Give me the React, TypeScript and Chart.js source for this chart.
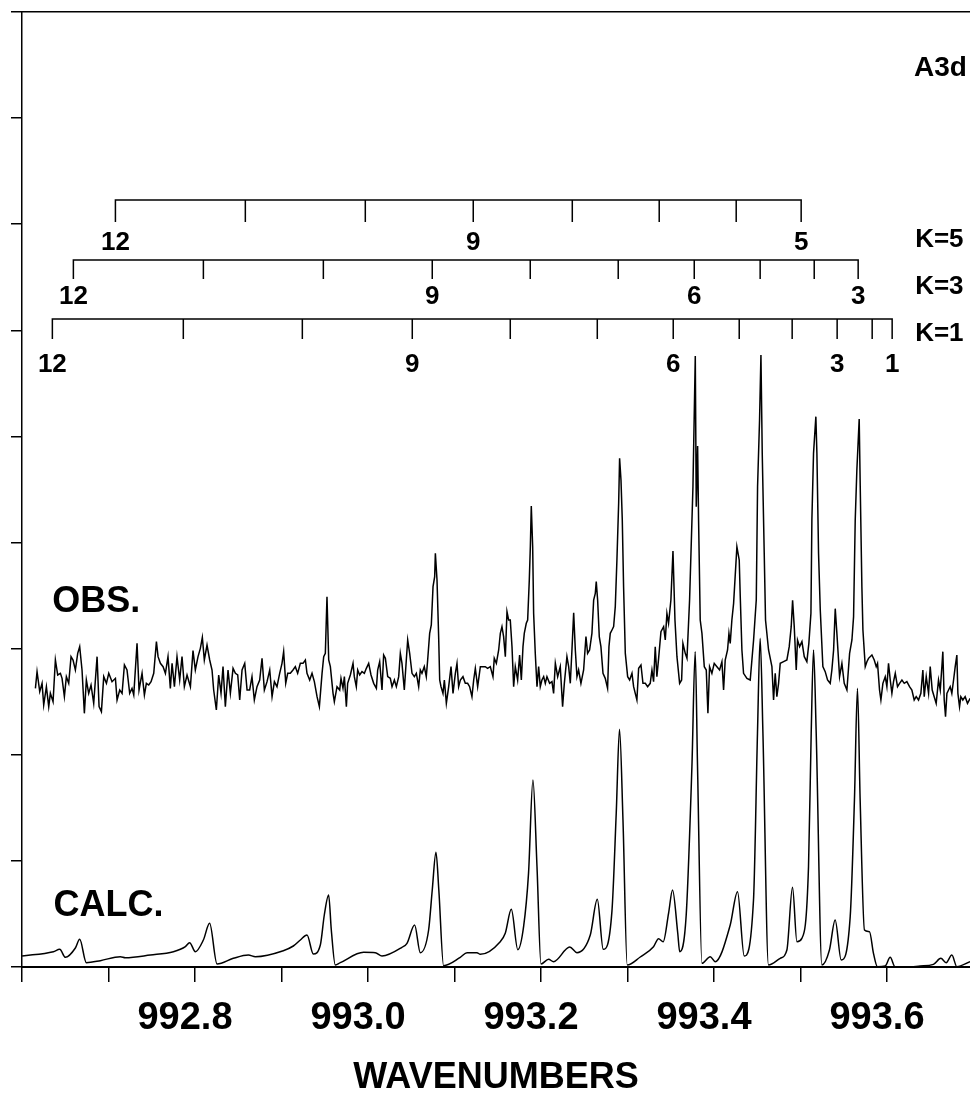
import React, { useEffect, useRef } from "react";
import { Chart, registerables } from "chart.js";

Chart.register(...registerables);

// ---- axes ----
const X_MIN = 992.6;
const X_MAX = 993.696;
const Y_MAX = 2865;
const xTickValues = [992.6, 992.7, 992.8, 992.9, 993.0, 993.1, 993.2, 993.3, 993.4, 993.5, 993.6];
const xTickLabels = ["", "", "992.8", "", "993.0", "", "993.2", "", "993.4", "", "993.6"];
const yTickValues = [0, 318.33, 636.67, 955, 1273.33, 1591.67, 1910, 2228.33, 2546.67, 2865];
const xAxisTitle = "WAVENUMBERS";

// ---- observed spectrum [wavenumber, intensity] ----
const obsSpectrum: [number, number][] = [
  [992.6155,836],[992.6174,886],[992.6205,826],[992.6232,851],[992.6251,786],[992.6282,841],[992.6309,781],[992.6328,821],[992.6359,796],[992.6386,921],[992.6413,876],[992.6444,881],[992.6463,866],[992.649,811],[992.6513,871],[992.654,851],[992.6567,931],[992.659,921],[992.6617,891],[992.6644,941],[992.6667,961],[992.6694,891],[992.6721,761],[992.6744,861],[992.6771,821],[992.6798,846],[992.6829,791],[992.6868,931],[992.6891,781],[992.6918,766],[992.6945,871],[992.6976,851],[992.7003,881],[992.7041,856],[992.708,866],[992.7099,801],[992.713,831],[992.7157,821],[992.7184,906],[992.7214,891],[992.7245,821],[992.7272,836],[992.7292,816],[992.733,971],[992.7353,831],[992.7388,881],[992.7415,816],[992.7438,851],[992.7465,846],[992.7492,856],[992.7523,881],[992.7554,976],[992.7573,931],[992.76,911],[992.7631,901],[992.7658,881],[992.7688,931],[992.7715,836],[992.7735,911],[992.7762,841],[992.7792,931],[992.7823,861],[992.785,931],[992.7877,841],[992.7908,876],[992.7947,841],[992.7977,949],[992.8004,891],[992.8035,931],[992.8062,956],[992.8085,989],[992.8108,921],[992.8139,966],[992.817,921],[992.8197,891],[992.8216,831],[992.8247,771],[992.8274,876],[992.8301,821],[992.8324,901],[992.8351,781],[992.8382,891],[992.8409,821],[992.844,896],[992.8467,881],[992.8494,876],[992.8517,801],[992.8544,891],[992.8575,911],[992.8602,831],[992.8632,831],[992.8659,871],[992.8686,801],[992.8717,841],[992.8748,861],[992.8775,926],[992.8802,831],[992.8833,856],[992.8864,891],[992.8891,811],[992.8918,856],[992.8948,841],[992.8979,881],[992.9006,911],[992.9025,946],[992.9049,851],[992.9072,881],[992.9102,881],[992.9133,891],[992.916,901],[992.9187,881],[992.9218,911],[992.9249,911],[992.9276,921],[992.9295,881],[992.9326,861],[992.9353,881],[992.938,856],[992.9411,811],[992.9438,781],[992.9469,881],[992.9488,931],[992.9507,941],[992.9526,1111],[992.9546,921],
  [992.9565,901],[992.9596,821],[992.9611,796],[992.9642,841],[992.9673,831],[992.9688,866],[992.9711,836],[992.9727,871],[992.975,781],[992.9765,851],[992.9796,876],[992.9827,911],[992.9842,871],[992.9865,841],[992.9881,891],[992.9904,876],[992.9931,886],[992.9958,881],[992.9981,896],[993.0008,911],[993.0035,876],[993.0066,851],[993.0097,836],[993.0112,891],[993.0135,916],[993.0162,831],[993.0181,936],[993.0201,926],[993.0228,871],[993.0258,866],[993.0278,841],[993.0305,861],[993.0328,841],[993.0355,871],[993.0374,941],[993.0393,911],[993.042,831],[993.0443,921],[993.0459,981],[993.0482,941],[993.0509,881],[993.0536,871],[993.0559,881],[993.0586,841],[993.0605,891],[993.0624,881],[993.0651,901],[993.0674,871],[993.069,921],[993.0713,1001],[993.0732,1026],[993.0752,1141],[993.0771,1171],[993.0779,1241],[993.0798,1161],[993.0817,991],[993.0829,861],[993.0844,841],[993.0867,821],[993.0883,861],[993.0906,791],[993.0933,841],[993.096,901],[993.0983,821],[993.101,881],[993.1029,911],[993.1048,841],[993.1068,861],[993.1098,871],[993.1125,851],[993.1152,851],[993.1175,841],[993.1202,811],[993.1222,861],[993.1241,896],[993.1268,841],[993.1299,901],[993.1329,901],[993.1356,901],[993.1383,896],[993.1414,901],[993.1445,871],[993.146,926],[993.1484,911],[993.1511,951],[993.153,1001],[993.1549,1021],[993.1568,991],[993.1588,931],[993.1607,1066],[993.1626,1041],[993.1645,1041],[993.1665,961],[993.1684,841],[993.1703,901],[993.173,861],[993.1753,936],[993.1773,861],[993.1792,961],[993.1807,1001],[993.183,1031],[993.1846,1041],[993.1865,1161],[993.1877,1261],[993.1888,1383],[993.1904,1261],[993.1915,1061],[993.1934,941],[993.1954,841],[993.1973,901],[993.1992,841],[993.2011,861],[993.2031,871],[993.205,851],[993.2069,871],[993.21,851],[993.2127,856],[993.2146,821],[993.2166,911],[993.2193,871],[993.2223,901],[993.225,781],[993.227,851],[993.23,931],[993.232,901],[993.2339,851],[993.2358,951],[993.2378,1063],[993.2397,951],[993.2416,871],[993.2435,891],[993.2462,851],[993.2493,891],[993.252,991],[993.2539,941],[993.2562,951],[993.2589,1001],[993.2609,1101],[993.2628,1121],[993.2639,1156],[993.2655,1101],[993.2674,991],[993.2693,961],[993.2717,881],[993.2743,866],[993.277,836],[993.2786,961],[993.2801,1001],[993.2821,1011],[993.284,1021],[993.2859,1081],[993.2878,1221],[993.2898,1391],[993.2909,1526],[993.2925,1461],[993.294,1341],[993.2955,1141],[993.2975,941],[993.3002,871],[993.3025,861],[993.3052,881],[993.3071,841],[993.309,821],[993.3109,801],[993.3129,896],[993.3156,906],[993.3179,851],[993.3206,851],[993.3233,841],
  [993.3263,851],[993.3283,891],[993.3302,856],[993.3321,961],[993.334,871],[993.336,926],[993.3387,1006],[993.3418,1021],[993.3437,981],[993.3456,1061],[993.3475,1031],[993.3502,1101],[993.3526,1248],[993.3549,1041],[993.3572,931],[993.3603,851],[993.3626,861],[993.3641,971],[993.3668,941],[993.3688,926],[993.3718,1101],[993.3757,1441],[993.3784,1833],[993.3795,1381],[993.3811,1563],[993.3822,1341],[993.3841,1041],[993.3861,1001],[993.3888,901],[993.3911,891],[993.393,761],[993.3949,901],[993.3976,881],[993.4003,911],[993.4034,901],[993.4065,891],[993.4092,916],[993.4111,831],[993.413,921],[993.4157,951],[993.4173,1001],[993.4188,971],[993.4207,1041],[993.4227,1091],[993.4265,1261],[993.4292,1221],[993.4304,1111],[993.4323,951],[993.4342,881],[993.4381,866],[993.4419,861],[993.4458,981],[993.4489,1101],[993.4504,1441],[993.4527,1641],[993.4543,1836],[993.4558,1541],[993.4581,1241],[993.4596,1041],[993.4631,951],[993.467,901],[993.4689,801],[993.4708,881],[993.4727,811],[993.4747,851],[993.4766,911],[993.4805,916],[993.4843,921],[993.487,961],[993.4893,1021],[993.4909,1100],[993.4928,1021],[993.4951,891],[993.4966,981],[993.499,961],[993.5017,976],[993.5044,931],[993.5074,916],[993.5097,971],[993.5121,1061],[993.5132,1341],[993.5151,1541],[993.5178,1651],[993.519,1541],[993.5209,1241],[993.5229,1071],[993.5259,901],[993.5286,886],[993.5313,861],[993.5344,851],[993.5363,891],[993.5383,951],[993.5402,1075],[993.5421,1001],[993.5452,871],[993.5479,911],[993.5506,851],[993.5537,831],[993.5568,941],[993.5595,981],[993.5614,1051],[993.5633,1341],[993.5652,1491],[993.5679,1644],[993.5691,1441],[993.571,1141],[993.5722,1011],[993.5749,901],[993.5768,916],[993.5787,926],[993.5826,936],[993.5853,921],[993.5876,901],[993.5891,911],[993.5914,831],[993.593,801],[993.5953,851],[993.598,871],[993.5999,841],[993.6018,911],[993.6038,861],[993.6057,821],[993.6076,856],[993.6096,881],[993.6122,841],[993.6146,851],[993.6173,861],[993.62,851],[993.623,856],[993.6261,841],[993.6288,831],[993.6315,801],[993.6338,811],[993.6365,801],[993.6392,821],[993.6415,891],[993.6431,811],[993.6454,871],[993.6481,821],[993.65,901],[993.6523,831],[993.6546,811],[993.6569,791],[993.6596,861],[993.6616,831],[993.6635,901],[993.6646,946],[993.6662,801],[993.6677,751],[993.6693,821],[993.6712,831],[993.6731,841],[993.675,821],[993.677,861],[993.6789,901],[993.6808,936],[993.682,821],[993.6839,781],[993.6854,811],[993.6877,801],[993.6904,811],[993.6931,791],[993.6962,806]
];

// ---- calculated spectrum [wavenumber, intensity] ----
const calcSpectrum: [number, number][] = [
  [992.6001,33],[992.6363,46],[992.6436,53],[992.6502,29],[992.6617,57],[992.6667,83],[992.6744,13],[992.6906,19],[992.7137,31],[992.7195,28],[992.7484,36],[992.775,46],[992.7889,61],[992.7938,73],[992.8004,46],[992.8097,81],[992.8169,131],[992.8255,9],[992.8443,26],[992.8617,36],[992.8698,31],[992.9021,49],[992.9137,63],[992.9218,81],[992.9295,96],[992.9368,39],[992.9449,66],[992.9495,156],[992.9545,216],[992.9576,111],[992.9622,6],[992.968,13],[992.9949,44],[993.0085,43],[993.0162,33],[993.0393,59],[993.0451,71],[993.0539,126],[993.0605,43],[993.0701,111],[993.0743,231],[993.0786,344],[993.0819,231],[993.0874,4],[993.1067,29],[993.1145,43],[993.126,43],[993.1298,38],[993.1529,76],[993.1587,101],[993.1657,173],[993.1732,52],[993.1799,121],[993.1856,281],[993.1907,561],[993.1954,301],[993.2,9],[993.2088,23],[993.2145,16],[993.2333,60],[993.2416,43],[993.257,96],[993.2651,203],[993.272,53],[993.282,166],[993.287,461],[993.2908,713],[993.2948,441],[993.2997,6],[993.3148,30],[993.3301,61],[993.3359,85],[993.3413,76],[993.3475,161],[993.3521,231],[993.3581,102],[993.3604,46],[993.3679,156],[993.3745,601],[993.3783,946],[993.381,601],[993.3861,11],[993.3957,31],[993.4014,16],[993.4188,126],[993.4272,226],[993.435,33],[993.4457,201],[993.4503,701],[993.4534,986],[993.4566,701],[993.463,6],[993.4766,26],[993.4843,51],[993.4908,239],[993.4959,76],[993.5016,86],[993.5093,301],[993.5124,701],[993.5151,951],[993.5182,701],[993.5248,6],[993.5335,51],[993.5401,141],[993.5471,21],[993.5575,151],[993.5624,501],[993.5659,836],[993.569,501],[993.574,111],[993.5798,106],[993.5844,41],[993.589,1],[993.5979,3],[993.6037,29],[993.6095,0],[993.623,0],[993.6384,3],[993.6537,8],[993.6623,26],[993.6684,13],[993.675,36],[993.6808,1],[993.6962,16]
];

// ---- K-ladders (line positions in wavenumbers, J from 12 downwards) ----
const kNames = ["K=5", "K=3", "K=1"];
const k5Positions = [992.708, 992.8582, 992.9969, 993.1217, 993.2362, 993.3367, 993.4257, 993.5008];
const k5J = [12, 11, 10, 9, 8, 7, 6, 5];
const k5Labeled = [12, 9, 5];
const k3Positions = [992.6594, 992.8097, 992.9484, 993.0743, 993.1876, 993.2893, 993.3772, 993.4534, 993.5159, 993.5667];
const k3J = [12, 11, 10, 9, 8, 7, 6, 5, 4, 3];
const k3Labeled = [12, 9, 6, 3];
const k1Positions = [992.6351, 992.7865, 992.9241, 993.0512, 993.1645, 993.2651, 993.3529, 993.4292, 993.4904, 993.5424, 993.5829, 993.606];
const k1J = [12, 11, 10, 9, 8, 7, 6, 5, 4, 3, 2, 1];
const k1Labeled = [12, 9, 6, 3, 1];
// levels of each ladder (intensity units): bar, tick foot, number label, K name
const ladderBar = [2301, 2121, 1944];
const ladderFoot = [2235, 2064, 1884];
const ladderNumberY = [2172, 2010, 1806];
const kNameX = 993.6326;
const kNameY = [2181, 2040, 1899];

// ---- other text ----
const panelLabel = { text: "A3d", x: 993.6925, y: 2697 };
const obsLabel = { text: "OBS.", x: 992.6351, y: 1095 };
const calcLabel = { text: "CALC.", x: 992.6363, y: 183 };

const FONT = "'Liberation Sans', Arial, Helvetica, sans-serif";

function ladderPath(xs: number[], bar: number, foot: number) {
  const pts: { x: number; y: number }[] = [];
  xs.forEach((x, i) => {
    if (i === 0) {
      pts.push({ x, y: foot }, { x, y: bar });
    } else {
      pts.push({ x, y: bar }, { x, y: foot }, { x, y: bar });
    }
  });
  return pts;
}

const ladders = [
  { xs: k5Positions, js: k5J, labeled: k5Labeled },
  { xs: k3Positions, js: k3J, labeled: k3Labeled },
  { xs: k1Positions, js: k1J, labeled: k1Labeled },
];

const textPlugin = {
  id: "spectrumText",
  afterDatasetsDraw(chart: any) {
    const { ctx, scales } = chart;
    const xs = scales.x;
    const ys = scales.y;
    ctx.save();
    ctx.fillStyle = "#000";
    ctx.textBaseline = "middle";
    // ladder numbers
    ctx.font = `bold 26px ${FONT}`;
    ctx.textAlign = "center";
    ladders.forEach((l, li) => {
      l.labeled.forEach((j) => {
        const idx = l.js.indexOf(j);
        ctx.fillText(String(j), xs.getPixelForValue(l.xs[idx]), ys.getPixelForValue(ladderNumberY[li]));
      });
    });
    // K names
    ctx.textAlign = "left";
    kNames.forEach((name, i) => {
      ctx.fillText(name, xs.getPixelForValue(kNameX), ys.getPixelForValue(kNameY[i]));
    });
    // panel label
    ctx.font = `bold 28px ${FONT}`;
    ctx.textAlign = "right";
    ctx.fillText(panelLabel.text, xs.getPixelForValue(panelLabel.x), ys.getPixelForValue(panelLabel.y));
    // trace labels
    ctx.font = `bold 36px ${FONT}`;
    ctx.textAlign = "left";
    ctx.fillText(obsLabel.text, xs.getPixelForValue(obsLabel.x), ys.getPixelForValue(obsLabel.y));
    ctx.fillText(calcLabel.text, xs.getPixelForValue(calcLabel.x), ys.getPixelForValue(calcLabel.y));
    ctx.restore();
  },
};

export default function App() {
  const canvasRef = useRef<HTMLCanvasElement | null>(null);

  useEffect(() => {
    if (!canvasRef.current) return;
    Chart.defaults.font.family = FONT;
    Chart.defaults.color = "#000";

    const ladderDatasets = ladders.map((l, i) => ({
      label: kNames[i],
      data: ladderPath(l.xs, ladderBar[i], ladderFoot[i]),
      borderColor: "#000",
      borderWidth: 1.5,
      pointRadius: 0,
      tension: 0,
      fill: false,
    }));

    const chart = new Chart(canvasRef.current, {
      type: "line",
      data: {
        datasets: [
          {
            label: "OBS.",
            data: obsSpectrum.map(([x, y]) => ({ x, y })),
            borderColor: "#000",
            borderWidth: 1.5,
            pointRadius: 0,
            tension: 0,
            fill: false,
          },
          {
            label: "CALC.",
            data: calcSpectrum.map(([x, y]) => ({ x, y })),
            borderColor: "#000",
            borderWidth: 1.5,
            pointRadius: 0,
            cubicInterpolationMode: "monotone",
            fill: false,
          },
          ...ladderDatasets,
        ],
      } as any,
      options: {
        animation: false,
        responsive: false,
        devicePixelRatio: 1,
        layout: { padding: { top: 12, left: 0, right: 0, bottom: 0 } },
        plugins: { legend: { display: false }, tooltip: { enabled: false } },
        events: [],
        scales: {
          x: {
            type: "linear",
            position: "bottom",
            min: X_MIN,
            max: X_MAX,
            afterBuildTicks: (scale: any) => {
              scale.ticks = xTickValues.map((v) => ({ value: v }));
            },
            afterFit: (scale: any) => {
              scale.height = 133;
            },
            ticks: {
              autoSkip: false,
              maxRotation: 0,
              minRotation: 0,
              padding: 14,
              labelOffset: -10,
              color: "#000",
              font: { size: 38, weight: "bold" },
              callback: (_v: any, i: number) => xTickLabels[i],
            },
            grid: {
              drawOnChartArea: false,
              drawTicks: true,
              tickLength: 15,
              color: "#000",
              lineWidth: 1.5,
            },
            border: { display: true, color: "#000", width: 2 },
            title: {
              display: true,
              text: xAxisTitle,
              color: "#000",
              font: { size: 36, weight: "bold" },
              padding: { top: 0, bottom: 0 },
            },
          },
          xTop: {
            type: "linear",
            position: "top",
            min: X_MIN,
            max: X_MAX,
            afterFit: (scale: any) => {
              scale.height = 0;
            },
            ticks: { display: false },
            grid: { drawOnChartArea: false, drawTicks: false, color: "#000" },
            border: { display: true, color: "#000", width: 1.5 },
          },
          y: {
            type: "linear",
            position: "left",
            min: 0,
            max: Y_MAX,
            afterBuildTicks: (scale: any) => {
              scale.ticks = yTickValues.map((v) => ({ value: v }));
            },
            afterFit: (scale: any) => {
              scale.width = 22;
            },
            ticks: { display: false },
            grid: {
              drawOnChartArea: false,
              drawTicks: true,
              tickLength: 11,
              color: "#000",
              lineWidth: 1.5,
            },
            border: { display: true, color: "#000", width: 1.5 },
          },
        },
      } as any,
      plugins: [textPlugin],
    });

    return () => {
      chart.destroy();
    };
  }, []);

  return (
    <div style={{ position: "absolute", left: 0, top: 0, width: 970, height: 1100, background: "#fff" }}>
      <canvas ref={canvasRef} width={970} height={1100} style={{ display: "block" }} />
    </div>
  );
}
